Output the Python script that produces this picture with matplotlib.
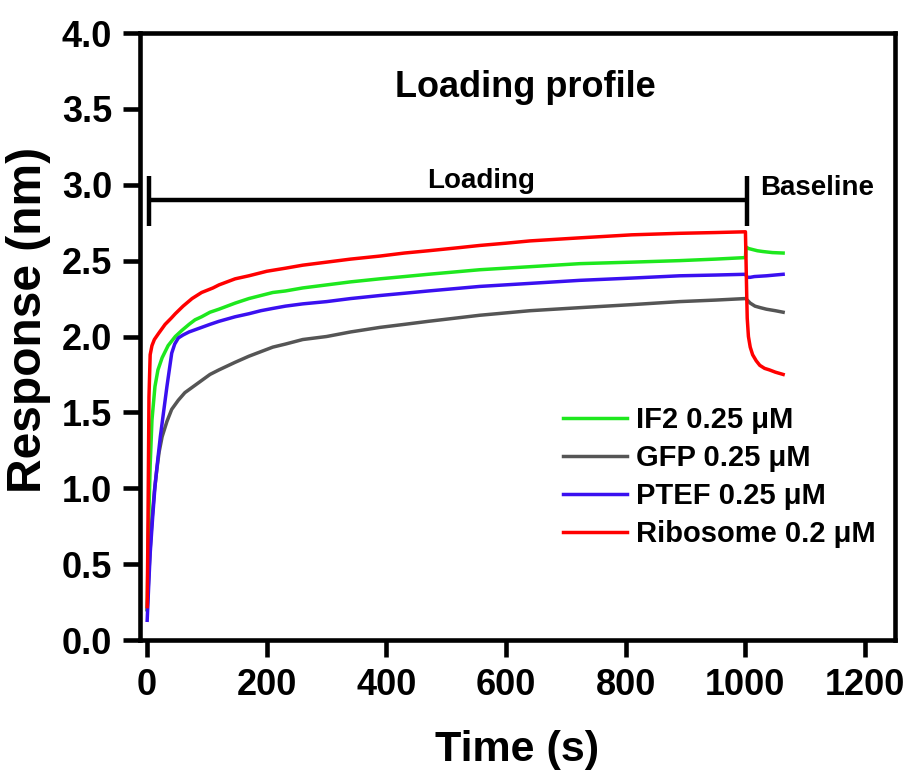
import matplotlib
matplotlib.use("Agg")
import matplotlib.pyplot as plt

plt.rcParams['font.family'] = ['Liberation Sans', 'DejaVu Sans']
plt.rcParams['font.weight'] = 'bold'

# IF2 0.25 uM
t_if2 = [0, 2, 5, 8, 13, 18, 25, 35, 47, 58, 70, 80, 91, 105, 120, 147, 170, 190, 210,
         231, 260, 300, 340, 389, 430, 470, 556, 640, 723, 810, 890, 950, 1000,
         1001, 1005, 1010, 1020, 1029, 1045, 1063]
y_if2 = [0.2, 0.7, 1.15, 1.45, 1.67, 1.78, 1.86, 1.94, 2.0, 2.04, 2.08, 2.11, 2.13,
         2.16, 2.18, 2.22, 2.25, 2.27, 2.29, 2.30, 2.32, 2.34, 2.36, 2.38, 2.395,
         2.41, 2.44, 2.46, 2.48, 2.49, 2.50, 2.51, 2.52,
         2.59, 2.58, 2.575, 2.565, 2.56, 2.553, 2.55]

# GFP 0.25 uM
t_gfp = [0, 3, 5, 8, 12, 16, 20, 25, 33, 41, 52, 63, 77, 91, 105, 120, 147, 170, 190,
         210, 231, 260, 300, 340, 389, 430, 470, 556, 640, 723, 810, 890, 950, 1000,
         1003, 1008, 1016, 1025, 1035, 1050, 1063]
y_gfp = [0.2, 0.45, 0.6, 0.79, 0.98, 1.12, 1.24, 1.34, 1.44, 1.52, 1.58, 1.63, 1.67,
         1.71, 1.75, 1.78, 1.83, 1.87, 1.9, 1.93, 1.95, 1.98, 2.0, 2.03, 2.06, 2.08,
         2.10, 2.14, 2.17, 2.19, 2.21, 2.23, 2.24, 2.25,
         2.24, 2.22, 2.20, 2.19, 2.18, 2.17, 2.16]

# PTEF 0.25 uM
t_ptef = [0, 3, 5, 9, 13, 18, 22, 28, 33, 41, 46, 52, 60, 70, 91, 105, 120, 147, 170,
          190, 210, 231, 260, 300, 340, 389, 430, 470, 556, 640, 723, 810, 890, 950,
          1000, 1003, 1008, 1015, 1035, 1063]
y_ptef = [0.13, 0.4, 0.57, 0.8, 1.01, 1.2, 1.34, 1.52, 1.67, 1.89, 1.95, 1.99, 2.01,
          2.03, 2.06, 2.08, 2.1, 2.13, 2.15, 2.17, 2.185, 2.2, 2.215, 2.23, 2.25,
          2.27, 2.285, 2.30, 2.33, 2.35, 2.37, 2.385, 2.40, 2.405,
          2.41, 2.39, 2.39, 2.395, 2.40, 2.41]

# Ribosome 0.2 uM
t_rib = [0, 1, 2, 3, 5, 8, 12, 19, 30, 40, 47, 60, 75, 91, 110, 120, 147, 170, 200,
         231, 260, 300, 340, 389, 430, 470, 520, 556, 600, 640, 723, 810, 890, 950, 1000,
         1001, 1002, 1003, 1005, 1008, 1012, 1018, 1024, 1032, 1040, 1050, 1063]
y_rib = [0.22, 0.6, 1.1, 1.6, 1.88, 1.94, 1.98, 2.02, 2.08, 2.12, 2.15, 2.2, 2.25,
         2.29, 2.32, 2.34, 2.38, 2.40, 2.43, 2.45, 2.47, 2.49, 2.51, 2.53, 2.55,
         2.565, 2.585, 2.60, 2.615, 2.63, 2.65, 2.67, 2.68, 2.685, 2.69,
         2.5, 2.3, 2.12, 2.0, 1.93, 1.88, 1.84, 1.81, 1.79, 1.78, 1.765, 1.75]

series = [
    (t_if2, y_if2, '#1ee81e', 'IF2 0.25 μM'),
    (t_gfp, y_gfp, '#555555', 'GFP 0.25 μM'),
    (t_ptef, y_ptef, '#3a10f0', 'PTEF 0.25 μM'),
    (t_rib, y_rib, '#ff0000', 'Ribosome 0.2 μM'),
]

# bracket: loading phase 3..1002 s at 2.9 nm
load_start, load_end = 3, 1002
bracket_y, bracket_lo, bracket_hi = 2.9, 2.73, 3.06

fig = plt.figure(figsize=(9.06, 7.74), dpi=100)
ax = fig.add_axes([140/906, 134/774, 755/906, 607/774])

for i, (t, y, c, lab) in enumerate(series):
    ax.plot(t, y, color=c, lw=2.5, label=lab, zorder=2 + i)

ax.plot([load_start, load_end], [bracket_y, bracket_y], color='black', lw=3.2,
        solid_capstyle='butt')
ax.plot([load_start, load_start], [bracket_lo, bracket_hi], color='black', lw=3.2,
        solid_capstyle='butt')
ax.plot([load_end, load_end], [bracket_lo, bracket_hi], color='black', lw=3.2,
        solid_capstyle='butt')

ax.text(632, 3.64, 'Loading profile', ha='center', va='center', fontsize=26,
        fontweight='bold')
ax.text(558, 2.98, 'Loading', ha='center', va='baseline', fontsize=20,
        fontweight='bold')
ax.text(1119, 2.93, 'Baseline', ha='center', va='baseline', fontsize=20,
        fontweight='bold')

ax.set_xlim(-12, 1250)
ax.set_ylim(0, 4.0)
ax.set_xticks([0, 200, 400, 600, 800, 1000, 1200])
ax.set_yticks([0.0, 0.5, 1.0, 1.5, 2.0, 2.5, 3.0, 3.5, 4.0])
ax.set_yticklabels(['0.0', '0.5', '1.0', '1.5', '2.0', '2.5', '3.0', '3.5', '4.0'])

for s in ax.spines.values():
    s.set_linewidth(3.3)
ax.tick_params(direction='out', length=12, width=3.3, labelsize=26, pad=8)
for lbl in ax.get_xticklabels() + ax.get_yticklabels():
    lbl.set_fontweight('bold')

ax.set_xlabel('Time (s)', fontsize=31, fontweight='bold')
ax.xaxis.set_label_coords(0.5, -0.148)
ax.set_ylabel('Response (nm)', fontsize=34.5, fontweight='bold', va='center')
ax.yaxis.set_label_coords(-0.148, 0.527)

ax.legend(loc='upper left', bbox_to_anchor=(0.56, 0.385), frameon=False,
          handlelength=2.2, handletextpad=0.3, labelspacing=0.34,
          borderpad=0, borderaxespad=0, prop={'weight': 'bold', 'size': 21})

fig.savefig('out.png', dpi=100)
